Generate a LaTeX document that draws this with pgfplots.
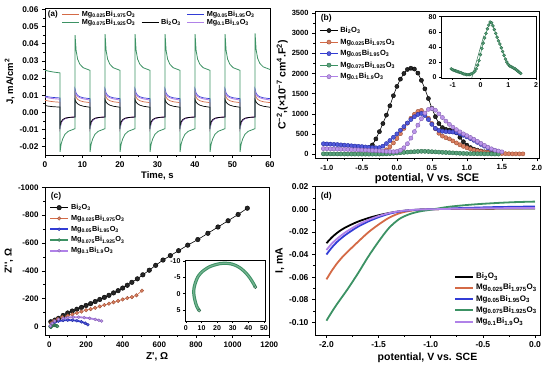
\documentclass[border=0pt]{standalone}
\usepackage{pgfplots}
\pgfplotsset{compat=1.18}
\usepackage{pgfplotstable}
\usepackage{fontspec}
\setmainfont{Liberation Sans}
\definecolor{cor}{RGB}{212,106,70}
\definecolor{cbl}{RGB}{50,60,214}
\definecolor{cgr}{RGB}{60,146,100}
\definecolor{cpu}{RGB}{176,130,232}
\newcommand{\BiO}{Bi\textsubscript{2}O\textsubscript{3}}
\newcommand{\MgA}{Mg\textsubscript{0.025}Bi\textsubscript{1.975}O\textsubscript{3}}
\newcommand{\MgB}{Mg\textsubscript{0.05}Bi\textsubscript{1.95}O\textsubscript{3}}
\newcommand{\MgC}{Mg\textsubscript{0.075}Bi\textsubscript{1.925}O\textsubscript{3}}
\newcommand{\MgD}{Mg\textsubscript{0.1}Bi\textsubscript{1.9}O\textsubscript{3}}
\newcommand{\fs}[1]{\bfseries\fontsize{#1}{#1}\selectfont}

\pgfplotsset{
  base/.style={scale only axis, axis line style={line width=0.9pt},
    tick align=outside, xtick pos=bottom, ytick pos=left,
    major tick length=3pt, minor tick length=1.6pt,
    tick style={black, line width=0.7pt},
    /pgf/number format/assume math mode=true,
    /pgf/number format/1000 sep={},
    legend cell align=left},
  mk/.style={color=#1, line width=0.6pt, mark=*, mark size=2.1pt,
    mark options={fill=#1!85!white, draw=#1!75!black, line width=0.4pt}},
}

% ---------- panel (a) ----------
\pgfplotstableread{
t bi a b c d
0 0.0040 0.0070 0.0095 0.0245 0.0090
1.0 0.0036 0.0066 0.0090 0.0240 0.0084
2.2 0.0033 0.0062 0.0087 0.0235 0.0080
3.98 0.0031 0.0059 0.0084 0.0230 0.0077
4.02 -0.0080 -0.0090 -0.0095 -0.0230 -0.0090
4.3 -0.0055 -0.0060 -0.0062 -0.0185 -0.0060
4.7 -0.0042 -0.0045 -0.0047 -0.0155 -0.0045
5.3 -0.0034 -0.0036 -0.0037 -0.0128 -0.0036
6.2 -0.0030 -0.0030 -0.0031 -0.0110 -0.0030
7.98 -0.0027 -0.0026 -0.0027 -0.0095 -0.0026
8.02 0.0075 0.0110 0.0135 0.0450 0.0128
8.3 0.0060 0.0088 0.0112 0.0360 0.0105
8.7 0.0050 0.0076 0.0099 0.0310 0.0093
9.3 0.0042 0.0068 0.0091 0.0280 0.0085
10.2 0.0036 0.0062 0.0085 0.0260 0.0079
11.98 0.0030 0.0057 0.0080 0.0245 0.0072
12.02 -0.0080 -0.0090 -0.0095 -0.0230 -0.0090
12.3 -0.0055 -0.0060 -0.0062 -0.0185 -0.0060
12.7 -0.0042 -0.0045 -0.0047 -0.0155 -0.0045
13.3 -0.0034 -0.0036 -0.0037 -0.0128 -0.0036
14.2 -0.0030 -0.0030 -0.0031 -0.0110 -0.0030
15.98 -0.0027 -0.0026 -0.0027 -0.0095 -0.0026
16.02 0.0075 0.0110 0.0135 0.0455 0.0128
16.3 0.0060 0.0088 0.0112 0.0360 0.0105
16.7 0.0050 0.0076 0.0099 0.0310 0.0093
17.3 0.0042 0.0068 0.0091 0.0280 0.0085
18.2 0.0036 0.0062 0.0085 0.0260 0.0079
19.98 0.0030 0.0057 0.0080 0.0245 0.0072
20.02 -0.0080 -0.0090 -0.0095 -0.0230 -0.0090
20.3 -0.0055 -0.0060 -0.0062 -0.0185 -0.0060
20.7 -0.0042 -0.0045 -0.0047 -0.0155 -0.0045
21.3 -0.0034 -0.0036 -0.0037 -0.0128 -0.0036
22.2 -0.0030 -0.0030 -0.0031 -0.0110 -0.0030
23.98 -0.0027 -0.0026 -0.0027 -0.0095 -0.0026
24.02 0.0075 0.0110 0.0135 0.0455 0.0128
24.3 0.0060 0.0088 0.0112 0.0360 0.0105
24.7 0.0050 0.0076 0.0099 0.0310 0.0093
25.3 0.0042 0.0068 0.0091 0.0280 0.0085
26.2 0.0036 0.0062 0.0085 0.0260 0.0079
27.98 0.0030 0.0057 0.0080 0.0245 0.0072
28.02 -0.0080 -0.0090 -0.0095 -0.0230 -0.0090
28.3 -0.0055 -0.0060 -0.0062 -0.0185 -0.0060
28.7 -0.0042 -0.0045 -0.0047 -0.0155 -0.0045
29.3 -0.0034 -0.0036 -0.0037 -0.0128 -0.0036
30.2 -0.0030 -0.0030 -0.0031 -0.0110 -0.0030
31.98 -0.0027 -0.0026 -0.0027 -0.0095 -0.0026
32.02 0.0075 0.0110 0.0135 0.0455 0.0128
32.3 0.0060 0.0088 0.0112 0.0360 0.0105
32.7 0.0050 0.0076 0.0099 0.0310 0.0093
33.3 0.0042 0.0068 0.0091 0.0280 0.0085
34.2 0.0036 0.0062 0.0085 0.0260 0.0079
35.98 0.0030 0.0057 0.0080 0.0245 0.0072
36.02 -0.0080 -0.0090 -0.0095 -0.0230 -0.0090
36.3 -0.0055 -0.0060 -0.0062 -0.0185 -0.0060
36.7 -0.0042 -0.0045 -0.0047 -0.0155 -0.0045
37.3 -0.0034 -0.0036 -0.0037 -0.0128 -0.0036
38.2 -0.0030 -0.0030 -0.0031 -0.0110 -0.0030
39.98 -0.0027 -0.0026 -0.0027 -0.0095 -0.0026
40.02 0.0075 0.0110 0.0135 0.0455 0.0128
40.3 0.0060 0.0088 0.0112 0.0360 0.0105
40.7 0.0050 0.0076 0.0099 0.0310 0.0093
41.3 0.0042 0.0068 0.0091 0.0280 0.0085
42.2 0.0036 0.0062 0.0085 0.0260 0.0079
43.98 0.0030 0.0057 0.0080 0.0245 0.0072
44.02 -0.0080 -0.0090 -0.0095 -0.0230 -0.0090
44.3 -0.0055 -0.0060 -0.0062 -0.0185 -0.0060
44.7 -0.0042 -0.0045 -0.0047 -0.0155 -0.0045
45.3 -0.0034 -0.0036 -0.0037 -0.0128 -0.0036
46.2 -0.0030 -0.0030 -0.0031 -0.0110 -0.0030
47.98 -0.0027 -0.0026 -0.0027 -0.0095 -0.0026
48.02 0.0075 0.0110 0.0135 0.0455 0.0128
48.3 0.0060 0.0088 0.0112 0.0360 0.0105
48.7 0.0050 0.0076 0.0099 0.0310 0.0093
49.3 0.0042 0.0068 0.0091 0.0280 0.0085
50.2 0.0036 0.0062 0.0085 0.0260 0.0079
51.98 0.0030 0.0057 0.0080 0.0245 0.0072
52.02 -0.0080 -0.0090 -0.0095 -0.0230 -0.0090
52.3 -0.0055 -0.0060 -0.0062 -0.0185 -0.0060
52.7 -0.0042 -0.0045 -0.0047 -0.0155 -0.0045
53.3 -0.0034 -0.0036 -0.0037 -0.0128 -0.0036
54.2 -0.0030 -0.0030 -0.0031 -0.0110 -0.0030
55.98 -0.0027 -0.0026 -0.0027 -0.0095 -0.0026
56.02 0.0075 0.0110 0.0135 0.0460 0.0128
56.3 0.0060 0.0088 0.0112 0.0365 0.0105
56.7 0.0050 0.0076 0.0099 0.0315 0.0093
57.3 0.0042 0.0068 0.0091 0.0285 0.0085
58.2 0.0036 0.0062 0.0085 0.0265 0.0079
59.98 0.0030 0.0057 0.0080 0.0250 0.0072
}\tblA

% ---------- panel (b) ----------
\pgfplotstableread{
v y
-0.45 150
-0.40 165
-0.35 230
-0.30 380
-0.25 560
-0.20 760
-0.15 970
-0.10 1200
-0.05 1450
0.00 1680
0.05 1860
0.10 2000
0.15 2100
0.20 2130
0.25 2110
0.30 2010
0.35 1830
0.40 1620
0.45 1380
0.50 1140
0.55 930
0.60 760
0.65 660
0.70 615
0.75 600
0.80 585
0.85 530
0.90 420
0.95 310
1.00 225
1.05 165
1.10 125
1.15 100
1.20 80
1.25 60
1.30 45
}\tbBk
\pgfplotstableread{
v y
-0.25 10
-0.20 50
-0.15 110
-0.10 185
-0.05 280
0.00 390
0.05 510
0.10 640
0.15 770
0.20 890
0.25 990
0.30 1060
0.35 1085
0.40 1010
0.45 890
0.50 760
0.55 630
0.60 520
0.65 450
0.70 410
0.75 380
0.80 330
0.85 280
0.90 235
0.95 195
1.00 160
1.05 130
1.10 105
1.15 85
1.20 70
1.25 55
1.30 45
1.35 35
1.40 28
1.45 22
1.50 18
1.55 15
1.60 12
1.65 10
1.70 10
1.75 10
1.80 10
}\tbOr
\pgfplotstableread{
v y
-1.05 260
-1.00 255
-0.95 250
-0.90 245
-0.85 240
-0.80 232
-0.75 225
-0.70 218
-0.65 210
-0.60 203
-0.55 196
-0.50 190
-0.45 180
-0.40 172
-0.35 165
-0.30 160
-0.25 165
-0.20 200
-0.15 265
-0.10 340
-0.05 420
0.00 505
0.05 595
0.10 685
0.15 775
0.20 860
0.25 930
0.30 985
0.35 1010
0.40 960
0.45 860
0.50 740
0.55 640
0.60 590
0.65 570
0.70 560
0.75 555
0.80 550
0.85 535
0.90 505
0.95 470
1.00 430
1.05 390
1.10 345
1.15 295
1.20 245
1.25 200
1.30 160
1.35 120
1.40 90
1.45 70
}\tbBl
\pgfplotstableread{
v y
-1.05 11
-1.00 10
-0.95 9
-0.90 8.5
-0.85 8
-0.80 7
-0.75 6.5
-0.70 6
-0.65 5
-0.60 4.5
-0.55 4
-0.50 3.5
-0.45 3.5
-0.40 3.5
-0.35 4
-0.30 5
-0.25 6
-0.20 8
-0.15 11
-0.10 16
-0.05 22
0.00 30
0.05 38
0.10 45
0.15 52
0.20 58
0.25 64
0.30 69
0.35 73
0.40 72
0.45 68
0.50 63
0.55 58
0.60 53
0.65 48
0.70 44
0.75 39
0.80 34
0.85 29
0.90 24
0.95 20
1.00 17
1.05 15
1.10 14
1.15 13
1.20 12
1.25 11
1.30 9.5
1.35 8
1.40 6.5
1.45 5
}\tbGr
\pgfplotstableread{
v y
-1.05 140
-1.00 137
-0.95 134
-0.90 131
-0.85 128
-0.80 125
-0.75 122
-0.70 119
-0.65 116
-0.60 113
-0.55 110
-0.50 106
-0.45 102
-0.40 98
-0.35 94
-0.30 89
-0.25 84
-0.20 78
-0.15 72
-0.10 66
-0.05 62
0.00 70
0.05 100
0.10 160
0.15 260
0.20 400
0.25 560
0.30 720
0.35 880
0.40 1020
0.45 1110
0.50 1130
0.55 1090
0.60 1000
0.65 910
0.70 820
0.75 740
0.80 670
0.85 610
0.90 555
0.95 505
1.00 460
1.05 415
1.10 370
1.15 320
1.20 270
1.25 220
1.30 175
1.35 135
1.40 100
1.45 80
1.50 60
}\tbPu

% ---------- panel (c) ----------
\pgfplotstableread{
x y
8 -35
30 -47
50 -60
75 -80
100 -98
125 -112
150 -125
175 -138
200 -152
225 -165
250 -180
275 -195
300 -210
325 -225
350 -242
375 -258
400 -277
425 -297
450 -318
480 -343
510 -372
545 -405
580 -440
620 -478
660 -510
705 -545
755 -585
810 -625
865 -670
920 -715
975 -760
1030 -805
1080 -850
}\tcBk
\pgfplotstableread{
x y
10 -25
25 -40
45 -55
70 -68
100 -78
125 -88
150 -98
175 -108
200 -118
225 -126
250 -135
275 -145
300 -155
325 -165
350 -175
375 -185
400 -195
425 -205
450 -212
475 -225
505 -258
}\tcOr
\pgfplotstableread{
x y
5 -5
15 -20
30 -32
50 -40
75 -45
100 -47
125 -46
150 -42
175 -35
195 -25
210 -14
}\tcBl
\pgfplotstableread{
x y
8.5 5.2
7 4
6 2.5
5.3 1
5 -0.5
5.3 -2
6.2 -3.5
7.5 -5
9.5 -6.3
12 -7.3
15 -8.2
18.5 -8.8
22 -9.2
25.5 -9.3
29 -9.1
32.5 -8.5
35.5 -7.6
38.5 -6.3
41 -4.8
43 -3.3
44.5 -2
}\tcGr
\pgfplotstableread{
x y
5 -5
15 -25
30 -40
50 -52
75 -60
100 -65
130 -68
160 -68
190 -65
220 -60
250 -52
270 -46
285 -40
}\tcPu

% ---------- panel (d) ----------
\pgfplotstableread{
v bi a b c d
-2.00 -0.0300 -0.0620 -0.0400 -0.0985 -0.0360
-1.95 -0.0250 -0.0545 -0.0340 -0.0910 -0.0305
-1.90 -0.0210 -0.0480 -0.0290 -0.0840 -0.0262
-1.85 -0.0178 -0.0425 -0.0250 -0.0775 -0.0225
-1.80 -0.0152 -0.0378 -0.0215 -0.0710 -0.0193
-1.70 -0.0110 -0.0290 -0.0155 -0.0570 -0.0138
-1.60 -0.0078 -0.0205 -0.0108 -0.0420 -0.0094
-1.50 -0.0053 -0.0135 -0.0070 -0.0285 -0.0060
-1.40 -0.0033 -0.0075 -0.0040 -0.0165 -0.0034
-1.30 -0.0018 -0.0035 -0.0020 -0.0085 -0.0017
-1.20 -0.0008 -0.0014 -0.0009 -0.0042 -0.0007
-1.10 -0.0003 -0.0004 -0.0003 -0.0018 -0.0002
-1.00 0.0000 0.0000 0.0000 -0.0004 0.0000
-0.90 0.0002 0.0002 0.0004 0.0012 0.0002
-0.80 0.0003 0.0004 0.0008 0.0025 0.0004
-0.60 0.0005 0.0006 0.0014 0.0042 0.0007
-0.40 0.0006 0.0008 0.0019 0.0054 0.0009
-0.20 0.0007 0.0010 0.0022 0.0063 0.0011
0.00 0.0008 0.0011 0.0025 0.0068 0.0012
}\tblD

\begin{document}
\begin{tikzpicture}
\useasboundingbox (0pt,0pt) rectangle (550pt,369pt);

% ===== (a) =====
\begin{axis}[base, at={(45pt,214pt)}, anchor=south west,
  width=225pt, height=146.7pt,
  xmin=0, xmax=60, ymin=-0.0248, ymax=0.0606,
  xtick={0,10,20,30,40,50,60}, ytick={-0.02,-0.01,0,0.01,0.02,0.03,0.04,0.05,0.06},
  minor x tick num=1, minor y tick num=1,
  scaled y ticks=false,
  yticklabel style={/pgf/number format/.cd, fixed, fixed zerofill, precision=2},
  tick label style={font=\fs{8.3}},
  xlabel={Time, s}, ylabel={J, mA/cm\textsuperscript{2}},
  label style={font=\fs{9.5}},
  xlabel style={yshift=3pt}, ylabel style={yshift=-2pt},
  legend columns=3,
  legend style={at={(0.075,0.998)}, anchor=north west, draw=none, fill=none,
    font=\fs{7.3}, inner sep=0pt, row sep=-2.5pt,
    /tikz/every even column/.append style={column sep=4pt}},
  legend image code/.code={\draw[#1] (0pt,0pt) -- (17pt,0pt);},
]
\addplot[cbl, line width=0.7pt, forget plot] table[x=t, y=b] {\tblA};
\addplot[cor, line width=0.7pt, forget plot] table[x=t, y=a] {\tblA};
\addplot[cpu, line width=0.9pt, forget plot] table[x=t, y=d] {\tblA};
\addplot[black, line width=0.7pt, forget plot] table[x=t, y=bi] {\tblA};
\addplot[cgr, line width=0.8pt, forget plot] table[x=t, y=c] {\tblA};
\addlegendimage{cor, line width=0.7pt}\addlegendentry{\MgA}
\addlegendimage{empty legend}\addlegendentry{}
\addlegendimage{cbl, line width=1pt}\addlegendentry{\MgB}
\addlegendimage{cgr, line width=0.8pt}\addlegendentry{\MgC}
\addlegendimage{black, line width=0.8pt}\addlegendentry{\BiO}
\addlegendimage{cpu, line width=1pt}\addlegendentry{\MgD}
\node[font=\fs{8}, anchor=west, inner sep=0pt] at (rel axis cs:0.012,0.955) {(a)};
\end{axis}

% ===== (b) =====
\begin{axis}[base, at={(315pt,210.7pt)}, anchor=south west,
  width=224pt, height=146.6pt,
  xmin=-1.17, xmax=2.03, ymin=-100, ymax=3530,
  xtick={-1,-0.5,0,0.5,1,1.5,2}, ytick={0,500,1000,1500,2000,2500,3000,3500},
  minor x tick num=1, minor y tick num=1,
  xticklabel style={/pgf/number format/.cd, fixed, fixed zerofill, precision=1},
  tick label style={font=\fs{7.5}},
  xlabel={potential, V vs. SCE},
  ylabel={C\textsuperscript{−2},(×10\textsuperscript{−7} cm\textsuperscript{4}.F\textsuperscript{2})},
  xlabel style={font=\fs{11}, yshift=3pt}, ylabel style={font=\fs{10.5}, yshift=-3pt},
  legend style={at={(0.02,0.91)}, anchor=north west, draw=none, fill=none,
    font=\fs{7.5}, inner sep=0pt, row sep=0.6pt},
  legend image code/.code={\draw[mark repeat=2, mark phase=2, #1] plot coordinates {(0pt,0pt) (9pt,0pt) (18pt,0pt)};},
]
\addplot[mk=black] table[x=v, y=y] {\tbBk}; \addlegendentry{\BiO}
\addplot[mk=cor] table[x=v, y=y] {\tbOr}; \addlegendentry{\MgA}
\addplot[mk=cbl] table[x=v, y=y] {\tbBl}; \addlegendentry{\MgB}
\addplot[mk=cgr] table[x=v, y=y] {\tbGr}; \addlegendentry{\MgC}
\addplot[mk=cpu] table[x=v, y=y] {\tbPu}; \addlegendentry{\MgD}
\node[font=\fs{8.5}, anchor=west, inner sep=0pt] at (rel axis cs:0.025,0.955) {(b)};
\end{axis}
\begin{axis}[base, at={(441pt,291pt)}, anchor=south west,
  width=95pt, height=62pt,
  axis background/.style={fill=white},
  xmin=-1.42, xmax=2.0, ymin=-1, ymax=81,
  xtick={-1,0,1,2}, ytick={0,20,40,60,80},
  major tick length=2pt,
  tick label style={font=\fs{7}},
  yticklabel style={xshift=1pt}, xticklabel style={yshift=1pt},
]
\addplot[cgr!80!black, line width=0.5pt] coordinates {(-0.32,-2) (0.12,55)};
\addplot[mk=cgr, mark size=1.5pt] table[x=v, y=y] {\tbGr};
\end{axis}

% ===== (c) =====
\begin{axis}[base, at={(45pt,34pt)}, anchor=south west,
  width=224.3pt, height=147.7pt,
  y dir=reverse,
  xmin=-24, xmax=1200, ymin=-1000, ymax=60,
  xtick={0,200,400,600,800,1000,1200}, ytick={-1000,-800,-600,-400,-200,0},
  minor x tick num=1, minor y tick num=1,
  tick label style={font=\fs{8}},
  xlabel={Z\textquotesingle, Ω}, ylabel={Z\textquotesingle\textquotesingle, Ω},
  label style={font=\fs{10}},
  xlabel style={yshift=2pt}, ylabel style={yshift=-2pt},
  legend style={at={(0.018,0.9)}, anchor=north west, draw=none, fill=none,
    font=\fs{7.3}, inner sep=0pt, row sep=0pt},
  legend image code/.code={\draw[mark repeat=2, mark phase=2, #1] plot coordinates {(0pt,0pt) (9pt,0pt) (18pt,0pt)};},
]
\addplot[mk=black, mark size=2.3pt] table[x=x, y=y] {\tcBk}; \addlegendentry{\BiO}
\addplot[mk=cor, mark size=1.8pt] table[x=x, y=y] {\tcOr}; \addlegendentry{\MgA}
\addplot[mk=cbl, line width=1.8pt, mark size=1.5pt] table[x=x, y=y] {\tcBl}; \addlegendentry{\MgB}
\addplot[mk=cgr, line width=1.8pt, mark size=1.5pt] table[x=x, y=y] {\tcGr}; \addlegendentry{\MgC}
\addplot[mk=cpu, line width=1.8pt, mark size=1.5pt] table[x=x, y=y] {\tcPu}; \addlegendentry{\MgD}
\node[font=\fs{8.5}, anchor=west, inner sep=0pt] at (rel axis cs:0.025,0.94) {(c)};
\end{axis}
\begin{axis}[base, at={(185pt,48pt)}, anchor=south west,
  width=80.5pt, height=61pt,
  axis background/.style={fill=white},
  y dir=reverse,
  xmin=-0.6, xmax=51, ymin=-10.3, ymax=8.4,
  xtick={0,10,20,30,40,50}, ytick={-10,-5,0,5},
  major tick length=2pt,
  tick label style={font=\fs{7}},
  yticklabel style={xshift=1pt}, xticklabel style={yshift=1pt},
]
\addplot[cgr, line width=3.2pt, smooth] table[x=x, y=y] {\tcGr};
\addplot[cgr!70!white, line width=1.2pt, smooth] table[x=x, y=y] {\tcGr};
\addplot[only marks, mark=*, mark size=1.6pt, mark options={fill=cgr!60!white, draw=cgr!70!black}] coordinates {(8.5,5.2) (44.5,-2)};
\end{axis}

% ===== (d) =====
\begin{axis}[base, at={(315pt,34pt)}, anchor=south west,
  width=225pt, height=149pt,
  xmin=-2.11, xmax=0.048, ymin=-0.1112, ymax=0.0206,
  xtick={-2,-1.5,-1,-0.5,0}, ytick={-0.1,-0.08,-0.06,-0.04,-0.02,0,0.02},
  minor x tick num=1, minor y tick num=1,
  scaled y ticks=false,
  xticklabel style={/pgf/number format/.cd, fixed, fixed zerofill, precision=1},
  yticklabel style={/pgf/number format/.cd, fixed, fixed zerofill, precision=2},
  tick label style={font=\fs{8.5}},
  xlabel={potential, V vs. SCE}, ylabel={I, mA},
  label style={font=\fs{10.5}},
  xlabel style={yshift=2pt}, ylabel style={yshift=-2pt},
  legend style={at={(0.995,0.05)}, anchor=south east, draw=none, fill=none,
    font=\fs{8}, inner sep=0pt, row sep=0pt},
  legend image code/.code={\draw[#1, line width=2pt] (0pt,0pt) -- (18pt,0pt);},
]
\addplot[black, line width=1.8pt, smooth] table[x=v, y=bi] {\tblD}; \addlegendentry{\BiO}
\addplot[cor, line width=1.8pt, smooth] table[x=v, y=a] {\tblD}; \addlegendentry{\MgA}
\addplot[cbl, line width=1.8pt, smooth] table[x=v, y=b] {\tblD}; \addlegendentry{\MgB}
\addplot[cgr, line width=1.8pt, smooth] table[x=v, y=c] {\tblD}; \addlegendentry{\MgC}
\addplot[cpu, line width=1.8pt, smooth] table[x=v, y=d] {\tblD}; \addlegendentry{\MgD}
\node[font=\fs{8.5}, anchor=west, inner sep=0pt] at (rel axis cs:0.025,0.93) {(d)};
\end{axis}
\end{tikzpicture}
\end{document}
